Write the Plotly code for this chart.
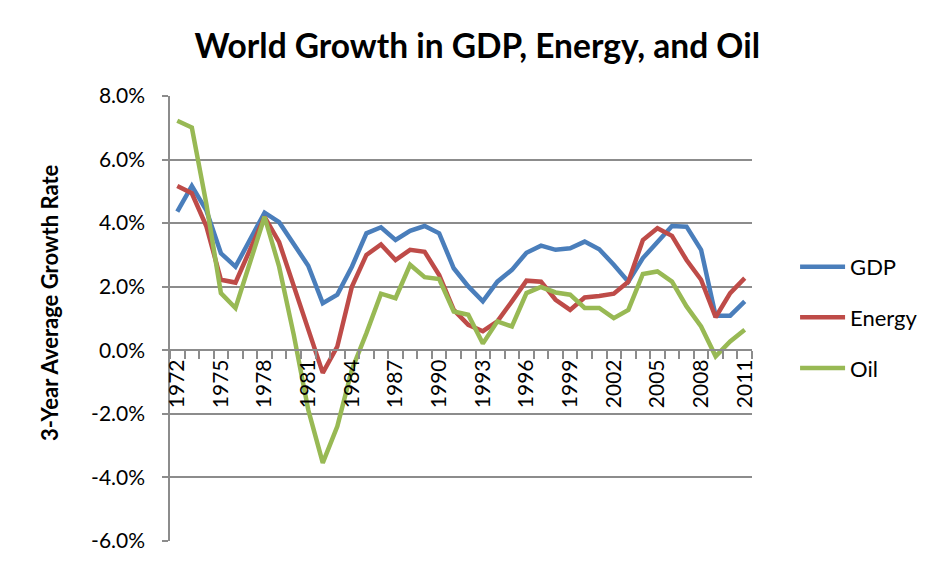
import plotly.graph_objects as go

# World growth, 3-year average, percent
years = list(range(1972, 2012))

gdp = [4.36, 5.17, 4.40, 3.05, 2.63, 3.47, 4.33, 4.03, 3.37, 2.66,
       1.48, 1.75, 2.63, 3.68, 3.87, 3.47, 3.76, 3.91, 3.68, 2.58,
       2.01, 1.54, 2.16, 2.53, 3.07, 3.29, 3.16, 3.21, 3.42, 3.18,
       2.69, 2.16, 2.90, 3.42, 3.91, 3.89, 3.16, 1.09, 1.09, 1.54]

energy = [5.17, 4.94, 3.90, 2.22, 2.13, 3.16, 4.20, 3.40, 2.03, 0.60,
          -0.71, 0.12, 2.00, 3.00, 3.33, 2.84, 3.16, 3.10, 2.37, 1.27,
          0.80, 0.60, 0.91, 1.54, 2.19, 2.16, 1.59, 1.27, 1.66, 1.71,
          1.78, 2.16, 3.47, 3.84, 3.60, 2.84, 2.22, 1.04, 1.80, 2.27]

oil = [7.22, 7.01, 4.60, 1.80, 1.33, 2.76, 4.20, 2.63, 0.50, -1.87,
       -3.54, -2.39, -0.61, 0.54, 1.78, 1.64, 2.69, 2.30, 2.24, 1.22,
       1.12, 0.21, 0.91, 0.75, 1.80, 1.99, 1.82, 1.75, 1.33, 1.33,
       1.01, 1.27, 2.40, 2.48, 2.16, 1.38, 0.75, -0.19, 0.28, 0.65]

label_years = list(range(1972, 2012, 3))
y_ticks = [-6, -4, -2, 0, 2, 4, 6, 8]
y_labels = ["-6.0%", "-4.0%", "-2.0%", "0.0%", "2.0%", "4.0%", "6.0%", "8.0%"]

series = [("GDP", gdp, "#4A7EBB"), ("Energy", energy, "#BE4B48"), ("Oil", oil, "#98B954")]

font = "Lato, Open Sans, sans-serif"
grid = "#8C8C8C"

fig = go.Figure()
for name, vals, color in series:
    fig.add_trace(go.Scatter(x=years, y=vals, mode="lines", name=name,
                             legendgroup=name, line=dict(color=color, width=4.5)))

# page body adds an 8px offset, margins account for it
fig.update_layout(
    width=946, height=570,
    margin=dict(l=162, r=202, t=88, b=37),
    paper_bgcolor="white", plot_bgcolor="white",
    font=dict(family=font, size=20, color="black"),
    title=dict(text="<b>World Growth in GDP, Energy, and Oil</b>",
               x=0.496, xanchor="center", y=0.932, yanchor="middle",
               font=dict(size=33.5, family=font)),
    showlegend=True,
    legend=dict(x=1.074, xanchor="left", y=0.663, yanchor="top",
                font=dict(size=22), tracegroupgap=19, itemwidth=45),
)

fig.update_yaxes(
    range=[-6, 8], tickvals=y_ticks, ticktext=y_labels,
    showgrid=True, gridcolor=grid, gridwidth=1.5,
    showline=True, linecolor=grid, linewidth=1.5,
    ticks="outside", ticklen=6, tickcolor=grid, tickwidth=1.5,
    ticklabelstandoff=13, zeroline=False, automargin=False,
    tickfont=dict(size=21),
)

fig.update_xaxes(
    range=[1971.5, 2011.5], anchor="free", position=6 / 14,
    tickvals=label_years, ticktext=[str(y) for y in label_years],
    tickangle=-90, ticks="", showgrid=False, zeroline=False,
    showline=True, linecolor=grid, linewidth=1.5,
    minor=dict(tick0=1971.5, dtick=1, ticks="outside", ticklen=8,
               tickcolor=grid, tickwidth=1.5, showgrid=False),
    ticklabelstandoff=0, automargin=False, tickfont=dict(size=21),
)

fig.add_annotation(text="<b>3-Year Average Growth Rate</b>", textangle=-90,
                   xref="paper", yref="paper", x=-0.206, y=0.535,
                   xanchor="center", yanchor="middle",
                   showarrow=False, font=dict(size=22))

fig.write_html("out.html")
